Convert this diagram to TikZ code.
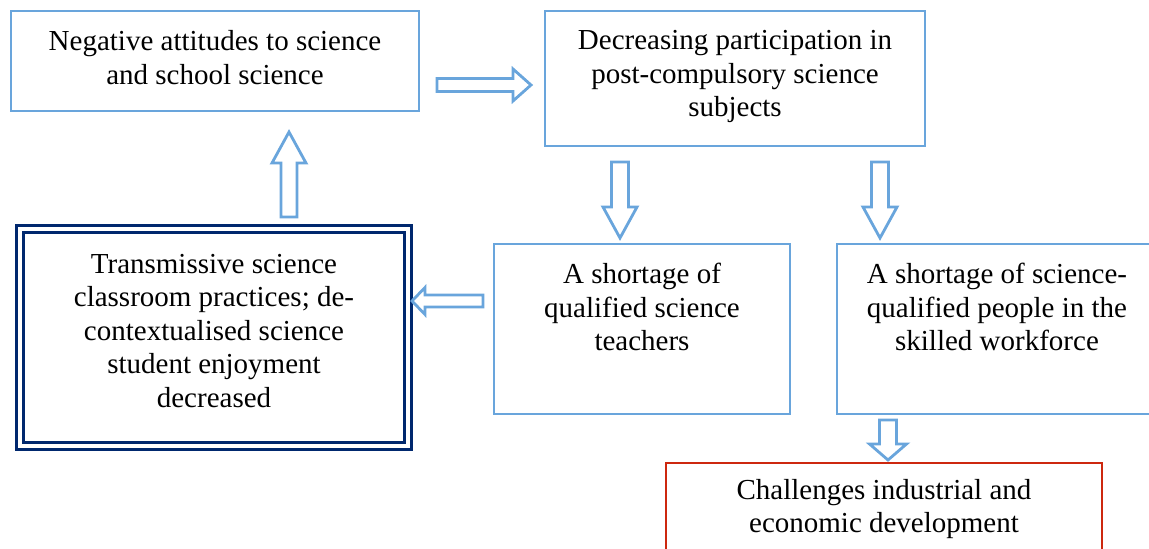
\documentclass[tikz,border=0pt]{standalone}
\usepackage{fontspec}
\setmainfont{Liberation Serif}
\definecolor{lblue}{RGB}{105,165,220}
\definecolor{navy}{RGB}{0,40,110}
\definecolor{dred}{RGB}{205,40,15}
\tikzset{
  box/.style={draw=lblue, line width=2.8pt, rectangle, inner sep=0pt},
  txt/.style={align=center, inner sep=0pt, font=\fontsize{29}{33.5}\selectfont},
  barrowline/.style={draw=lblue, line width=2.8pt, fill=white, line join=miter},
  pics/barrow/.style n args={4}{code={
    \draw[barrowline] (0,-#4) -- ({#1-#2},-#4) -- ({#1-#2},-#3) -- (#1,0) -- ({#1-#2},#3) -- ({#1-#2},#4) -- (0,#4) -- cycle;
  }}
}
\begin{document}
\begin{tikzpicture}[x=1pt,y=-1pt]
\clip (0,0) rectangle (1149,549);
\fill[white] (0,0) rectangle (1149,549);
% boxes
\node[box, minimum width=408pt, minimum height=100pt] (b1) at (215,61) {};
\node[box, minimum width=380pt, minimum height=135pt] (b2) at (735,78.5) {};
\node[draw=navy, line width=3pt, double=white, double distance=4pt, inner sep=0pt,
      minimum width=388pt, minimum height=217.5pt] (b3) at (214,337.25) {};
\node[box, minimum width=296pt, minimum height=170pt] (b4) at (642,329) {};
\node[box, minimum width=323pt, minimum height=170pt] (b5) at (998.5,329) {};
\node[draw=dred, line width=2.8pt, inner sep=0pt, minimum width=436pt, minimum height=100pt] (b6) at (884,513) {};
% texts
\node[txt] (t1) at (215,57.5) {Negative attitudes to science\\and school science};
\node[txt] (t2) at (735,76.5) {Decreasing participation in\\post-compulsory science\\subjects};
\node[txt] (t3) at (214,331) {Transmissive science\\classroom practices; de-\\contextualised science\\student enjoyment\\decreased};
\node[txt] (t4) at (642,307) {A shortage of\\qualified science\\teachers};
\node[txt] (t5) at (997,307) {A shortage of science-\\qualified people in the\\skilled workforce};
\node[txt] (t6) at (884,509) {Challenges industrial and\\economic development};
% block arrows
\pic at (437,85) {barrow={94}{18}{16}{6.5}};
\pic[rotate=90] at (289,217) {barrow={85}{31}{17}{8}};
\pic[rotate=180] at (483,301) {barrow={71}{13}{13.5}{6}};
\pic[rotate=-90] at (620,162) {barrow={76}{31}{17}{8.5}};
\pic[rotate=-90] at (880,162) {barrow={76}{31}{17}{8.5}};
\pic[rotate=-90] at (888,420) {barrow={40}{16}{18.5}{8.5}};
\end{tikzpicture}
\end{document}
